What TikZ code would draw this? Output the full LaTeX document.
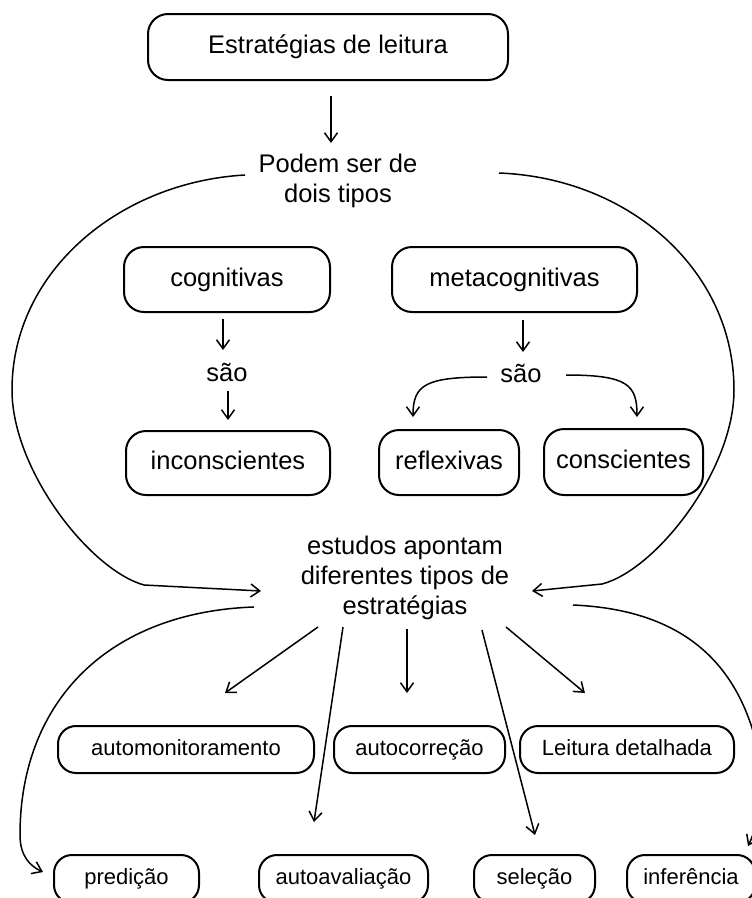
\documentclass[tikz,border=0pt]{standalone}
\usepackage{fontspec}
\setmainfont{Liberation Sans}
\usetikzlibrary{arrows.meta}
\begin{document}
\begin{tikzpicture}[x=1pt,y=-1pt,
  box/.style={draw, line width=2pt, rounded corners=20pt, inner sep=0pt, text height=18.5pt, text depth=5.5pt, font=\fontsize{25.5}{30}\selectfont},
  sbox/.style={draw, line width=2pt, rounded corners=18pt, inner sep=0pt, minimum height=47pt, text height=16pt, text depth=4.5pt, font=\fontsize{22}{26}\selectfont},
  lbl/.style={align=center, inner sep=0pt, font=\fontsize{25.5}{30}\selectfont},
  arr/.style={line width=1.5pt, -{Straight Barb[length=9pt,width=13pt]}},
  ln/.style={line width=1.5pt}]
\useasboundingbox (0,0) rectangle (752,898);
\clip (0,0) rectangle (752,898);
\fill[white] (0,0) rectangle (752,898);

% nodes
\node[box, minimum width=360pt, minimum height=66pt] (top) at (328,47) {Estratégias de leitura};
\node[lbl] (podem) at (338,181) {Podem ser de\\dois tipos};
\node[box, minimum width=206pt, minimum height=65pt] (cog) at (227,279.5) {cognitivas};
\node[box, minimum width=245pt, minimum height=65pt] (meta) at (514.5,279.5) {metacognitivas};
\node[lbl] (saoL) at (227,372) {são};
\node[lbl] (saoR) at (521,373) {são};
\node[box, minimum width=204pt, minimum height=64pt] (incon) at (228,463) {inconscientes};
\node[box, minimum width=140pt, minimum height=65pt] (refl) at (449,462.5) {reflexivas};
\node[box, minimum width=159pt, minimum height=66pt] (consc) at (623.5,462) {conscientes};
\node[lbl] (estudos) at (405,578) {estudos apontam\\diferentes tipos de\\estratégias};
\node[sbox, minimum width=256pt] (automon) at (186,749.5) {automonitoramento};
\node[sbox, minimum width=171pt] (autocor) at (419.5,749.5) {autocorreção};
\node[sbox, minimum width=214pt] (leit) at (627,749.5) {Leitura detalhada};
\node[sbox, minimum width=145pt, minimum height=48pt] (pred) at (126.5,879) {predição};
\node[sbox, minimum width=169pt, minimum height=48pt] (autoav) at (343.5,879) {autoavaliação};
\node[sbox, minimum width=121pt, minimum height=48pt] (sel) at (534.5,879) {seleção};
\node[sbox, minimum width=128pt, minimum height=48pt] (infer) at (691,879) {inferência};

% connector end points
\coordinate (t1) at (331,96);   \coordinate (t2) at (331,143);
\coordinate (cg1) at (223,319); \coordinate (cg2) at (223,350);
\coordinate (sl1) at (228,391); \coordinate (sl2) at (228,420);
\coordinate (mt1) at (523,320); \coordinate (mt2) at (523,352);
\coordinate (sr1) at (487,377); \coordinate (sr2) at (413,417);
\coordinate (sr3) at (566,375); \coordinate (sr4) at (637,417);
\coordinate (la1) at (245,175); \coordinate (la2) at (12,390);
\coordinate (la3) at (144,585); \coordinate (la4) at (261,591);
\coordinate (ra1) at (499,173); \coordinate (ra2) at (734,390);
\coordinate (ra3) at (602,584); \coordinate (ra4) at (532,591);
\coordinate (b1s) at (318,627); \coordinate (b1e) at (225,693);
\coordinate (b2s) at (343,627); \coordinate (b2e) at (314,822);
\coordinate (b3s) at (407,629); \coordinate (b3e) at (407,693);
\coordinate (b4s) at (482,630); \coordinate (b4e) at (535,835);
\coordinate (b5s) at (506,627); \coordinate (b5e) at (585,693);
\coordinate (bl1) at (254,607); \coordinate (bl2) at (20,835); \coordinate (bl3) at (43,872);
\coordinate (br1) at (573,605); \coordinate (br2) at (758,750); \coordinate (br3) at (748,846);

% connectors
\draw[arr] (t1) -- (t2);
\draw[arr] (cg1) -- (cg2);
\draw[arr] (sl1) -- (sl2);
\draw[arr] (mt1) -- (mt2);
\draw[arr] (sr1) .. controls (425,377) and (413,385) .. (sr2);
\draw[arr] (sr3) .. controls (628,375) and (637,385) .. (sr4);
\draw[arr] (la1) .. controls (120,182) and (12,271) .. (la2)
  .. controls (12,470) and (90,570) .. (la3) -- (la4);
\draw[arr] (ra1) .. controls (629,178) and (734,270) .. (ra2)
  .. controls (734,470) and (656,570) .. (ra3) -- (ra4);
\draw[arr] (b1s) -- (b1e);
\draw[arr] (b2s) -- (b2e);
\draw[arr] (b3s) -- (b3e);
\draw[arr] (b4s) -- (b4e);
\draw[arr] (b5s) -- (b5e);
\draw[arr] (bl1) .. controls (110,612) and (20,700) .. (bl2)
  .. controls (20,856) and (30,866) .. (bl3);
\draw[arr] (br1) .. controls (690,610) and (740,670) .. (br2)
  .. controls (764,800) and (756,830) .. (br3);
\end{tikzpicture}
\end{document}
